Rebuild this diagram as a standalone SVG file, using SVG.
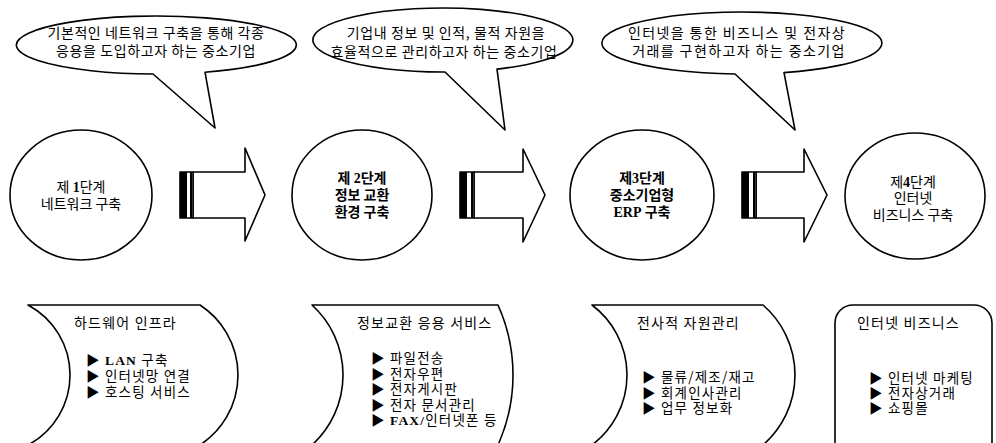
<svg xmlns="http://www.w3.org/2000/svg" width="996" height="443" viewBox="0 0 996 443">
<style>
.s{fill:#fff;stroke:#000;stroke-width:1.6;stroke-linejoin:round}
.k{fill:#000}
.t{font-family:"Noto Sans CJK KR","Noto Sans",sans-serif;font-size:14px;fill:#000}
.c{text-anchor:middle}
.bu{letter-spacing:0.6px}
.b{font-weight:bold}
.l{font-family:"Liberation Serif",serif;font-weight:bold}
.h{font-size:14px;letter-spacing:1.2px}
.i{font-size:13.5px;letter-spacing:1.2px}
</style>
<rect width="996" height="443" fill="#fff"/>

<g id="bubble1">
<path class="s" d="M153,74 A140,29 0 1 1 205,72.2 L215,128 Z"/>
<text class="t c bu" x="156" y="38">기본적인 네트워크 구축을 통해 각종</text>
<text class="t c bu" x="156" y="56">응용을 도입하고자 하는 중소기업</text>
</g>
<g id="bubble2">
<path class="s" d="M445,72 A130,32 0 1 1 497,69.1 L505,130 Z"/>
<text class="t c bu" x="446" y="38">기업내 정보 및 인적, 물적 자원을</text>
<text class="t c bu" x="444" y="57">효율적으로 관리하고자 하는 중소기업</text>
</g>
<g id="bubble3">
<path class="s" d="M735,74 A140,31 0 1 1 784,72.6 L795,130 Z"/>
<text class="t c bu" x="737" y="38" style="letter-spacing:1.4px">인터넷을 통한 비즈니스 및 전자상</text>
<text class="t c bu" x="739" y="56" style="letter-spacing:1.4px">거래를 구현하고자 하는 중소기업</text>
</g>

<g id="stage1">
<ellipse class="s" cx="81" cy="195" rx="71" ry="65"/>
<text class="t c" x="81" y="192">제 <tspan class="l">1</tspan>단계</text>
<text class="t c" x="81" y="209">네트워크 구축</text>
</g>
<g id="stage2">
<ellipse class="s" cx="362" cy="195" rx="70" ry="65"/>
<text class="t c b" x="362" y="183">제 <tspan class="l">2</tspan>단계</text>
<text class="t c b" x="362" y="200">정보 교환</text>
<text class="t c b" x="362" y="217">환경 구축</text>
</g>
<g id="stage3">
<ellipse class="s" cx="642" cy="195" rx="72" ry="65"/>
<text class="t c b" x="642" y="183">제<tspan class="l">3</tspan>단계</text>
<text class="t c b" x="642" y="200">중소기업형</text>
<text class="t c b" x="642" y="217"><tspan class="l">ERP</tspan> 구축</text>
</g>
<g id="stage4">
<ellipse class="s" cx="915" cy="196" rx="70" ry="63"/>
<text class="t c" x="913" y="187">제<tspan class="l">4</tspan>단계</text>
<text class="t c" x="913" y="203">인터넷</text>
<text class="t c" x="913" y="220">비즈니스 구축</text>
</g>

<g id="connectors">
<g id="arrow1">
<polygon class="s" points="193,172 245,172 245,148 265,195 245,241 245,218 193,218"/>
<rect class="s" x="180" y="172" width="13" height="46"/>
<rect class="k" x="180" y="172" width="7" height="46"/>
<rect class="k" x="190" y="172" width="2" height="46"/>
</g>
<g id="arrow2">
<polygon class="s" points="474,172 523,172 523,149 545,195 523,242 523,218 474,218"/>
<rect class="s" x="460" y="172" width="14" height="46"/>
<rect class="k" x="460" y="172" width="7" height="46"/>
<rect class="k" x="471" y="172" width="2" height="46"/>
</g>
<g id="arrow3">
<polygon class="s" points="756,172 804,172 804,149 827,195 804,242 804,218 756,218"/>
<rect class="s" x="742" y="172" width="14" height="46"/>
<rect class="k" x="742" y="172" width="7" height="46"/>
<rect class="k" x="753" y="172" width="2" height="46"/>
</g>
</g>

<g id="detail1">
<path class="s" d="M28,305 L200,305 A83.5,83.5 0 0 1 200,445 L28,445 A79.3,79.3 0 0 0 28,305 Z"/>
<text class="t h" x="74" y="328">하드웨어 인프라</text>
<text class="t i" x="86" y="365">▶ <tspan class="l">LAN</tspan> 구축</text>
<text class="t i" x="86" y="381">▶ 인터넷망 연결</text>
<text class="t i" x="86" y="397">▶ 호스팅 서비스</text>
</g>
<g id="detail2">
<path class="s" d="M312,305 L498,305 A170.8,170.8 0 0 1 498,445 L312,445 A94.5,94.5 0 0 0 312,305 Z"/>
<text class="t h" x="357" y="328">정보교환 응용 서비스</text>
<text class="t i" x="371" y="363">▶ 파일전송</text>
<text class="t i" x="371" y="378.5">▶ 전자우편</text>
<text class="t i" x="371" y="394">▶ 전자게시판</text>
<text class="t i" x="371" y="409.5">▶ 전자 문서관리</text>
<text class="t i" x="371" y="425">▶ <tspan class="l">FAX/</tspan>인터넷폰 등</text>
</g>
<g id="detail3">
<path class="s" d="M592,305 L763,305 A92.6,92.6 0 0 1 763,445 L592,445 A87.5,87.5 0 0 0 592,305 Z"/>
<text class="t h" x="637" y="328">전사적 자원관리</text>
<text class="t i" x="642" y="382">▶ 물류/제조/재고</text>
<text class="t i" x="642" y="397.5">▶ 회계인사관리</text>
<text class="t i" x="642" y="413">▶ 업무 정보화</text>
</g>
<g id="detail4">
<rect class="s" x="835" y="305" width="157" height="160" rx="18" ry="18"/>
<text class="t h" x="857" y="328">인터넷 비즈니스</text>
<text class="t i" x="869" y="383">▶ 인터넷 마케팅</text>
<text class="t i" x="869" y="398">▶ 전자상거래</text>
<text class="t i" x="869" y="413">▶ 쇼핑몰</text>
</g>
</svg>
